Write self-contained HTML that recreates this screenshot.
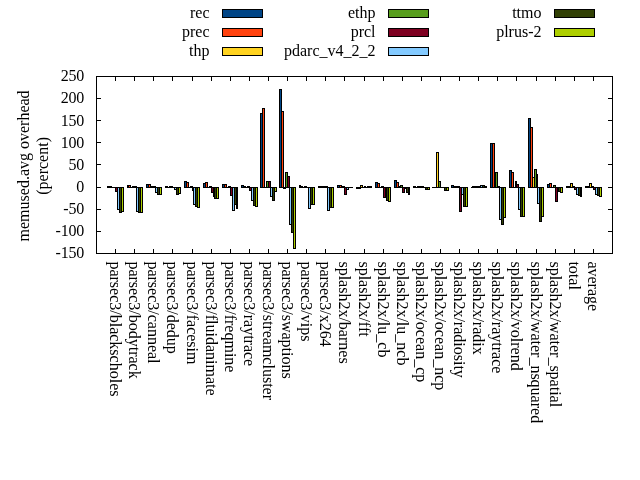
<!DOCTYPE html>
<html><head><meta charset="utf-8"><title>memused.avg overhead</title>
<style>html,body{margin:0;padding:0;background:#fff}svg{display:block}text{font-family:"Liberation Serif",serif;font-size:16px;fill:#000}</style></head><body>
<svg width="640" height="480" viewBox="0 0 640 480">
<rect width="640" height="480" fill="#fff"/>
<g stroke="#000" stroke-width="1" shape-rendering="crispEdges">
<rect x="107.5" y="186.5" width="2" height="1" fill="#004586"/>
<rect x="127.5" y="185.5" width="1" height="2" fill="#004586"/>
<rect x="146.5" y="184.5" width="2" height="3" fill="#004586"/>
<rect x="165.5" y="186.5" width="2" height="1" fill="#004586"/>
<rect x="184.5" y="181.5" width="2" height="6" fill="#004586"/>
<rect x="203.5" y="183.5" width="2" height="4" fill="#004586"/>
<rect x="222.5" y="184.5" width="2" height="3" fill="#004586"/>
<rect x="241.5" y="185.5" width="2" height="2" fill="#004586"/>
<rect x="260.5" y="113.5" width="2" height="74" fill="#004586"/>
<rect x="279.5" y="89.5" width="2" height="98" fill="#004586"/>
<rect x="299.5" y="185.5" width="1" height="2" fill="#004586"/>
<rect x="318.5" y="186.5" width="2" height="1" fill="#004586"/>
<rect x="337.5" y="185.5" width="2" height="2" fill="#004586"/>
<rect x="356.5" y="187.5" width="2" height="1" fill="#004586"/>
<rect x="375.5" y="182.5" width="2" height="5" fill="#004586"/>
<rect x="394.5" y="180.5" width="2" height="7" fill="#004586"/>
<rect x="413.5" y="186.5" width="2" height="1" fill="#004586"/>
<rect x="432" y="187" width="3" height="1" fill="#000" stroke="none"/>
<rect x="451.5" y="185.5" width="2" height="2" fill="#004586"/>
<rect x="471" y="187" width="2" height="1" fill="#000" stroke="none"/>
<rect x="490.5" y="143.5" width="2" height="44" fill="#004586"/>
<rect x="509.5" y="170.5" width="2" height="17" fill="#004586"/>
<rect x="528.5" y="118.5" width="2" height="69" fill="#004586"/>
<rect x="547.5" y="184.5" width="2" height="3" fill="#004586"/>
<rect x="566.5" y="186.5" width="2" height="1" fill="#004586"/>
<rect x="585.5" y="186.5" width="2" height="1" fill="#004586"/>
<rect x="109.5" y="186.5" width="2" height="1" fill="#ff420e"/>
<rect x="128.5" y="185.5" width="2" height="2" fill="#ff420e"/>
<rect x="148.5" y="184.5" width="2" height="3" fill="#ff420e"/>
<rect x="167" y="187" width="3" height="1" fill="#000" stroke="none"/>
<rect x="186.5" y="182.5" width="2" height="5" fill="#ff420e"/>
<rect x="205.5" y="182.5" width="2" height="5" fill="#ff420e"/>
<rect x="224.5" y="184.5" width="2" height="3" fill="#ff420e"/>
<rect x="243.5" y="186.5" width="2" height="1" fill="#ff420e"/>
<rect x="262.5" y="108.5" width="2" height="79" fill="#ff420e"/>
<rect x="281.5" y="111.5" width="2" height="76" fill="#ff420e"/>
<rect x="300.5" y="186.5" width="2" height="1" fill="#ff420e"/>
<rect x="320.5" y="186.5" width="2" height="1" fill="#ff420e"/>
<rect x="339.5" y="185.5" width="2" height="2" fill="#ff420e"/>
<rect x="358.5" y="187.5" width="2" height="1" fill="#ff420e"/>
<rect x="377.5" y="183.5" width="2" height="4" fill="#ff420e"/>
<rect x="396.5" y="182.5" width="2" height="5" fill="#ff420e"/>
<rect x="415" y="187" width="3" height="1" fill="#000" stroke="none"/>
<rect x="434" y="187" width="3" height="1" fill="#000" stroke="none"/>
<rect x="453.5" y="186.5" width="2" height="1" fill="#ff420e"/>
<rect x="472.5" y="186.5" width="2" height="1" fill="#ff420e"/>
<rect x="492.5" y="143.5" width="2" height="44" fill="#ff420e"/>
<rect x="511.5" y="172.5" width="2" height="15" fill="#ff420e"/>
<rect x="530.5" y="127.5" width="2" height="60" fill="#ff420e"/>
<rect x="549.5" y="183.5" width="2" height="4" fill="#ff420e"/>
<rect x="568.5" y="186.5" width="2" height="1" fill="#ff420e"/>
<rect x="587.5" y="186.5" width="2" height="1" fill="#ff420e"/>
<rect x="111" y="187" width="3" height="1" fill="#000" stroke="none"/>
<rect x="130" y="187" width="3" height="1" fill="#000" stroke="none"/>
<rect x="150.5" y="186.5" width="1" height="1" fill="#ffd320"/>
<rect x="169.5" y="186.5" width="2" height="1" fill="#ffd320"/>
<rect x="188" y="187" width="3" height="1" fill="#000" stroke="none"/>
<rect x="207" y="187" width="3" height="1" fill="#000" stroke="none"/>
<rect x="226" y="187" width="3" height="1" fill="#000" stroke="none"/>
<rect x="245" y="187" width="3" height="1" fill="#000" stroke="none"/>
<rect x="264" y="187" width="3" height="1" fill="#000" stroke="none"/>
<rect x="283.5" y="187.5" width="2" height="1" fill="#ffd320"/>
<rect x="302" y="187" width="3" height="1" fill="#000" stroke="none"/>
<rect x="322.5" y="186.5" width="1" height="1" fill="#ffd320"/>
<rect x="341.5" y="186.5" width="2" height="1" fill="#ffd320"/>
<rect x="360.5" y="185.5" width="2" height="2" fill="#ffd320"/>
<rect x="379" y="187" width="3" height="1" fill="#000" stroke="none"/>
<rect x="398.5" y="186.5" width="2" height="1" fill="#ffd320"/>
<rect x="417.5" y="186.5" width="2" height="1" fill="#ffd320"/>
<rect x="436.5" y="152.5" width="2" height="35" fill="#ffd320"/>
<rect x="455.5" y="186.5" width="2" height="1" fill="#ffd320"/>
<rect x="474.5" y="186.5" width="2" height="1" fill="#ffd320"/>
<rect x="494" y="187" width="2" height="1" fill="#000" stroke="none"/>
<rect x="513" y="187" width="3" height="1" fill="#000" stroke="none"/>
<rect x="532.5" y="177.5" width="2" height="10" fill="#ffd320"/>
<rect x="551" y="187" width="3" height="1" fill="#000" stroke="none"/>
<rect x="570.5" y="183.5" width="2" height="4" fill="#ffd320"/>
<rect x="589.5" y="183.5" width="2" height="4" fill="#ffd320"/>
<rect x="113" y="187" width="3" height="1" fill="#000" stroke="none"/>
<rect x="132.5" y="186.5" width="2" height="1" fill="#579d1c"/>
<rect x="151.5" y="186.5" width="2" height="1" fill="#579d1c"/>
<rect x="171.5" y="186.5" width="1" height="1" fill="#579d1c"/>
<rect x="190.5" y="186.5" width="2" height="1" fill="#579d1c"/>
<rect x="209.5" y="186.5" width="2" height="1" fill="#579d1c"/>
<rect x="228.5" y="186.5" width="2" height="1" fill="#579d1c"/>
<rect x="247.5" y="186.5" width="2" height="1" fill="#579d1c"/>
<rect x="266.5" y="181.5" width="2" height="6" fill="#579d1c"/>
<rect x="285.5" y="172.5" width="2" height="15" fill="#579d1c"/>
<rect x="304.5" y="186.5" width="2" height="1" fill="#579d1c"/>
<rect x="323.5" y="186.5" width="2" height="1" fill="#579d1c"/>
<rect x="343.5" y="186.5" width="1" height="1" fill="#579d1c"/>
<rect x="362" y="187" width="3" height="1" fill="#000" stroke="none"/>
<rect x="381.5" y="186.5" width="2" height="1" fill="#579d1c"/>
<rect x="400.5" y="185.5" width="2" height="2" fill="#579d1c"/>
<rect x="419.5" y="186.5" width="2" height="1" fill="#579d1c"/>
<rect x="438.5" y="181.5" width="2" height="6" fill="#579d1c"/>
<rect x="457.5" y="186.5" width="2" height="1" fill="#579d1c"/>
<rect x="476.5" y="186.5" width="2" height="1" fill="#579d1c"/>
<rect x="495.5" y="172.5" width="2" height="15" fill="#579d1c"/>
<rect x="515.5" y="181.5" width="1" height="6" fill="#579d1c"/>
<rect x="534.5" y="169.5" width="2" height="18" fill="#579d1c"/>
<rect x="553.5" y="185.5" width="2" height="2" fill="#579d1c"/>
<rect x="572.5" y="186.5" width="2" height="1" fill="#579d1c"/>
<rect x="591.5" y="186.5" width="2" height="1" fill="#579d1c"/>
<rect x="115.5" y="187.5" width="2" height="4" fill="#7e0021"/>
<rect x="134.5" y="186.5" width="2" height="1" fill="#7e0021"/>
<rect x="153.5" y="186.5" width="2" height="1" fill="#7e0021"/>
<rect x="172" y="187" width="3" height="1" fill="#000" stroke="none"/>
<rect x="192.5" y="187.5" width="1" height="3" fill="#7e0021"/>
<rect x="211.5" y="187.5" width="2" height="5" fill="#7e0021"/>
<rect x="230.5" y="187.5" width="2" height="8" fill="#7e0021"/>
<rect x="249.5" y="187.5" width="2" height="3" fill="#7e0021"/>
<rect x="268.5" y="181.5" width="2" height="6" fill="#7e0021"/>
<rect x="287.5" y="176.5" width="2" height="11" fill="#7e0021"/>
<rect x="306" y="187" width="3" height="1" fill="#000" stroke="none"/>
<rect x="325.5" y="186.5" width="2" height="1" fill="#7e0021"/>
<rect x="344.5" y="187.5" width="2" height="7" fill="#7e0021"/>
<rect x="364.5" y="186.5" width="1" height="1" fill="#7e0021"/>
<rect x="383.5" y="187.5" width="2" height="10" fill="#7e0021"/>
<rect x="402.5" y="187.5" width="2" height="5" fill="#7e0021"/>
<rect x="421.5" y="186.5" width="2" height="1" fill="#7e0021"/>
<rect x="440" y="187" width="3" height="1" fill="#000" stroke="none"/>
<rect x="459.5" y="187.5" width="2" height="24" fill="#7e0021"/>
<rect x="478.5" y="186.5" width="2" height="1" fill="#7e0021"/>
<rect x="497.5" y="186.5" width="2" height="1" fill="#7e0021"/>
<rect x="516.5" y="184.5" width="2" height="3" fill="#7e0021"/>
<rect x="536.5" y="174.5" width="1" height="13" fill="#7e0021"/>
<rect x="555.5" y="187.5" width="2" height="14" fill="#7e0021"/>
<rect x="574.5" y="187.5" width="2" height="2" fill="#7e0021"/>
<rect x="593.5" y="187.5" width="2" height="2" fill="#7e0021"/>
<rect x="117.5" y="187.5" width="2" height="22" fill="#83caff"/>
<rect x="136.5" y="187.5" width="2" height="24" fill="#83caff"/>
<rect x="155.5" y="187.5" width="2" height="5" fill="#83caff"/>
<rect x="174.5" y="187.5" width="2" height="2" fill="#83caff"/>
<rect x="193.5" y="187.5" width="2" height="17" fill="#83caff"/>
<rect x="213.5" y="187.5" width="1" height="9" fill="#83caff"/>
<rect x="232.5" y="187.5" width="2" height="23" fill="#83caff"/>
<rect x="251.5" y="187.5" width="2" height="13" fill="#83caff"/>
<rect x="270.5" y="187.5" width="2" height="9" fill="#83caff"/>
<rect x="289.5" y="187.5" width="2" height="37" fill="#83caff"/>
<rect x="308.5" y="187.5" width="2" height="21" fill="#83caff"/>
<rect x="327.5" y="187.5" width="2" height="23" fill="#83caff"/>
<rect x="346.5" y="187.5" width="2" height="2" fill="#83caff"/>
<rect x="365" y="187" width="3" height="1" fill="#000" stroke="none"/>
<rect x="385.5" y="187.5" width="1" height="8" fill="#83caff"/>
<rect x="404.5" y="187.5" width="2" height="1" fill="#83caff"/>
<rect x="423" y="187" width="3" height="1" fill="#000" stroke="none"/>
<rect x="442" y="187" width="3" height="1" fill="#000" stroke="none"/>
<rect x="461.5" y="187.5" width="2" height="7" fill="#83caff"/>
<rect x="480.5" y="185.5" width="2" height="2" fill="#83caff"/>
<rect x="499.5" y="187.5" width="2" height="32" fill="#83caff"/>
<rect x="518.5" y="187.5" width="2" height="22" fill="#83caff"/>
<rect x="537.5" y="187.5" width="2" height="16" fill="#83caff"/>
<rect x="557.5" y="187.5" width="1" height="3" fill="#83caff"/>
<rect x="576.5" y="187.5" width="2" height="7" fill="#83caff"/>
<rect x="595.5" y="187.5" width="2" height="7" fill="#83caff"/>
<rect x="119.5" y="187.5" width="2" height="25" fill="#314004"/>
<rect x="138.5" y="187.5" width="2" height="25" fill="#314004"/>
<rect x="157.5" y="187.5" width="2" height="7" fill="#314004"/>
<rect x="176.5" y="187.5" width="2" height="7" fill="#314004"/>
<rect x="195.5" y="187.5" width="2" height="19" fill="#314004"/>
<rect x="214.5" y="187.5" width="2" height="11" fill="#314004"/>
<rect x="234.5" y="187.5" width="2" height="17" fill="#314004"/>
<rect x="253.5" y="187.5" width="2" height="18" fill="#314004"/>
<rect x="272.5" y="187.5" width="2" height="13" fill="#314004"/>
<rect x="291.5" y="187.5" width="2" height="45" fill="#314004"/>
<rect x="310.5" y="187.5" width="2" height="17" fill="#314004"/>
<rect x="329.5" y="187.5" width="2" height="20" fill="#314004"/>
<rect x="348" y="187" width="3" height="1" fill="#000" stroke="none"/>
<rect x="367.5" y="186.5" width="2" height="1" fill="#314004"/>
<rect x="386.5" y="187.5" width="2" height="13" fill="#314004"/>
<rect x="406.5" y="187.5" width="2" height="5" fill="#314004"/>
<rect x="425.5" y="187.5" width="2" height="2" fill="#314004"/>
<rect x="444.5" y="187.5" width="2" height="3" fill="#314004"/>
<rect x="463.5" y="187.5" width="2" height="19" fill="#314004"/>
<rect x="482.5" y="185.5" width="2" height="2" fill="#314004"/>
<rect x="501.5" y="187.5" width="2" height="37" fill="#314004"/>
<rect x="520.5" y="187.5" width="2" height="29" fill="#314004"/>
<rect x="539.5" y="187.5" width="2" height="34" fill="#314004"/>
<rect x="558.5" y="187.5" width="2" height="4" fill="#314004"/>
<rect x="578.5" y="187.5" width="2" height="8" fill="#314004"/>
<rect x="597.5" y="187.5" width="2" height="8" fill="#314004"/>
<rect x="121.5" y="187.5" width="2" height="24" fill="#aecf00"/>
<rect x="140.5" y="187.5" width="2" height="25" fill="#aecf00"/>
<rect x="159.5" y="187.5" width="2" height="7" fill="#aecf00"/>
<rect x="178.5" y="187.5" width="2" height="6" fill="#aecf00"/>
<rect x="197.5" y="187.5" width="2" height="20" fill="#aecf00"/>
<rect x="216.5" y="187.5" width="2" height="11" fill="#aecf00"/>
<rect x="236.5" y="187.5" width="1" height="21" fill="#aecf00"/>
<rect x="255.5" y="187.5" width="2" height="19" fill="#aecf00"/>
<rect x="274.5" y="187.5" width="2" height="4" fill="#aecf00"/>
<rect x="293.5" y="187.5" width="2" height="61" fill="#aecf00"/>
<rect x="312.5" y="187.5" width="2" height="17" fill="#aecf00"/>
<rect x="331.5" y="187.5" width="2" height="20" fill="#aecf00"/>
<rect x="350" y="187" width="3" height="1" fill="#000" stroke="none"/>
<rect x="369.5" y="186.5" width="2" height="1" fill="#aecf00"/>
<rect x="388.5" y="187.5" width="2" height="14" fill="#aecf00"/>
<rect x="408.5" y="187.5" width="1" height="7" fill="#aecf00"/>
<rect x="427.5" y="187.5" width="2" height="2" fill="#aecf00"/>
<rect x="446.5" y="187.5" width="2" height="3" fill="#aecf00"/>
<rect x="465.5" y="187.5" width="2" height="19" fill="#aecf00"/>
<rect x="484.5" y="186.5" width="2" height="1" fill="#aecf00"/>
<rect x="503.5" y="187.5" width="2" height="30" fill="#aecf00"/>
<rect x="522.5" y="187.5" width="2" height="29" fill="#aecf00"/>
<rect x="541.5" y="187.5" width="2" height="29" fill="#aecf00"/>
<rect x="560.5" y="187.5" width="2" height="5" fill="#aecf00"/>
<rect x="580.5" y="187.5" width="1" height="9" fill="#aecf00"/>
<rect x="599.5" y="187.5" width="2" height="9" fill="#aecf00"/>
</g>
<g stroke="#000" stroke-width="1" fill="none" shape-rendering="crispEdges">
<rect x="96.5" y="76.5" width="516.0" height="177.0"/>
<rect x="97" y="76" width="4" height="1" fill="#000" stroke="none"/><rect x="608" y="76" width="4" height="1" fill="#000" stroke="none"/>
<rect x="97" y="98" width="4" height="1" fill="#000" stroke="none"/><rect x="608" y="98" width="4" height="1" fill="#000" stroke="none"/>
<rect x="97" y="120" width="4" height="1" fill="#000" stroke="none"/><rect x="608" y="120" width="4" height="1" fill="#000" stroke="none"/>
<rect x="97" y="142" width="4" height="1" fill="#000" stroke="none"/><rect x="608" y="142" width="4" height="1" fill="#000" stroke="none"/>
<rect x="97" y="164" width="4" height="1" fill="#000" stroke="none"/><rect x="608" y="164" width="4" height="1" fill="#000" stroke="none"/>
<rect x="97" y="187" width="4" height="1" fill="#000" stroke="none"/><rect x="608" y="187" width="4" height="1" fill="#000" stroke="none"/>
<rect x="97" y="209" width="4" height="1" fill="#000" stroke="none"/><rect x="608" y="209" width="4" height="1" fill="#000" stroke="none"/>
<rect x="97" y="231" width="4" height="1" fill="#000" stroke="none"/><rect x="608" y="231" width="4" height="1" fill="#000" stroke="none"/>
<rect x="97" y="253" width="4" height="1" fill="#000" stroke="none"/><rect x="608" y="253" width="4" height="1" fill="#000" stroke="none"/>
<rect x="115" y="249" width="1" height="4" fill="#000" stroke="none"/><rect x="115" y="77" width="1" height="4" fill="#000" stroke="none"/>
<rect x="134" y="249" width="1" height="4" fill="#000" stroke="none"/><rect x="134" y="77" width="1" height="4" fill="#000" stroke="none"/>
<rect x="153" y="249" width="1" height="4" fill="#000" stroke="none"/><rect x="153" y="77" width="1" height="4" fill="#000" stroke="none"/>
<rect x="172" y="249" width="1" height="4" fill="#000" stroke="none"/><rect x="172" y="77" width="1" height="4" fill="#000" stroke="none"/>
<rect x="192" y="249" width="1" height="4" fill="#000" stroke="none"/><rect x="192" y="77" width="1" height="4" fill="#000" stroke="none"/>
<rect x="211" y="249" width="1" height="4" fill="#000" stroke="none"/><rect x="211" y="77" width="1" height="4" fill="#000" stroke="none"/>
<rect x="230" y="249" width="1" height="4" fill="#000" stroke="none"/><rect x="230" y="77" width="1" height="4" fill="#000" stroke="none"/>
<rect x="249" y="249" width="1" height="4" fill="#000" stroke="none"/><rect x="249" y="77" width="1" height="4" fill="#000" stroke="none"/>
<rect x="268" y="249" width="1" height="4" fill="#000" stroke="none"/><rect x="268" y="77" width="1" height="4" fill="#000" stroke="none"/>
<rect x="287" y="249" width="1" height="4" fill="#000" stroke="none"/><rect x="287" y="77" width="1" height="4" fill="#000" stroke="none"/>
<rect x="306" y="249" width="1" height="4" fill="#000" stroke="none"/><rect x="306" y="77" width="1" height="4" fill="#000" stroke="none"/>
<rect x="325" y="249" width="1" height="4" fill="#000" stroke="none"/><rect x="325" y="77" width="1" height="4" fill="#000" stroke="none"/>
<rect x="344" y="249" width="1" height="4" fill="#000" stroke="none"/><rect x="344" y="77" width="1" height="4" fill="#000" stroke="none"/>
<rect x="364" y="249" width="1" height="4" fill="#000" stroke="none"/><rect x="364" y="77" width="1" height="4" fill="#000" stroke="none"/>
<rect x="383" y="249" width="1" height="4" fill="#000" stroke="none"/><rect x="383" y="77" width="1" height="4" fill="#000" stroke="none"/>
<rect x="402" y="249" width="1" height="4" fill="#000" stroke="none"/><rect x="402" y="77" width="1" height="4" fill="#000" stroke="none"/>
<rect x="421" y="249" width="1" height="4" fill="#000" stroke="none"/><rect x="421" y="77" width="1" height="4" fill="#000" stroke="none"/>
<rect x="440" y="249" width="1" height="4" fill="#000" stroke="none"/><rect x="440" y="77" width="1" height="4" fill="#000" stroke="none"/>
<rect x="459" y="249" width="1" height="4" fill="#000" stroke="none"/><rect x="459" y="77" width="1" height="4" fill="#000" stroke="none"/>
<rect x="478" y="249" width="1" height="4" fill="#000" stroke="none"/><rect x="478" y="77" width="1" height="4" fill="#000" stroke="none"/>
<rect x="497" y="249" width="1" height="4" fill="#000" stroke="none"/><rect x="497" y="77" width="1" height="4" fill="#000" stroke="none"/>
<rect x="516" y="249" width="1" height="4" fill="#000" stroke="none"/><rect x="516" y="77" width="1" height="4" fill="#000" stroke="none"/>
<rect x="536" y="249" width="1" height="4" fill="#000" stroke="none"/><rect x="536" y="77" width="1" height="4" fill="#000" stroke="none"/>
<rect x="555" y="249" width="1" height="4" fill="#000" stroke="none"/><rect x="555" y="77" width="1" height="4" fill="#000" stroke="none"/>
<rect x="574" y="249" width="1" height="4" fill="#000" stroke="none"/><rect x="574" y="77" width="1" height="4" fill="#000" stroke="none"/>
<rect x="593" y="249" width="1" height="4" fill="#000" stroke="none"/><rect x="593" y="77" width="1" height="4" fill="#000" stroke="none"/>
</g>
<text x="84.1" y="81.3" text-anchor="end" letter-spacing="-0.2">250</text>
<text x="84.1" y="103.4" text-anchor="end" letter-spacing="-0.2">200</text>
<text x="84.1" y="125.5" text-anchor="end" letter-spacing="-0.2">150</text>
<text x="84.1" y="147.7" text-anchor="end" letter-spacing="-0.2">100</text>
<text x="84.1" y="169.8" text-anchor="end" letter-spacing="-0.2">50</text>
<text x="84.1" y="191.9" text-anchor="end" letter-spacing="-0.2">0</text>
<text x="84.1" y="214.1" text-anchor="end" letter-spacing="-0.2">-50</text>
<text x="84.1" y="236.2" text-anchor="end" letter-spacing="-0.2">-100</text>
<text x="84.1" y="258.3" text-anchor="end" letter-spacing="-0.2">-150</text>
<text transform="translate(110.0,261.4) rotate(90)" x="0" y="0">parsec3/blackscholes</text>
<text transform="translate(129.1,261.4) rotate(90)" x="0" y="0">parsec3/bodytrack</text>
<text transform="translate(148.2,261.4) rotate(90)" x="0" y="0">parsec3/canneal</text>
<text transform="translate(167.3,261.4) rotate(90)" x="0" y="0">parsec3/dedup</text>
<text transform="translate(186.5,261.4) rotate(90)" x="0" y="0">parsec3/facesim</text>
<text transform="translate(205.6,261.4) rotate(90)" x="0" y="0">parsec3/fluidanimate</text>
<text transform="translate(224.7,261.4) rotate(90)" x="0" y="0">parsec3/freqmine</text>
<text transform="translate(243.8,261.4) rotate(90)" x="0" y="0">parsec3/raytrace</text>
<text transform="translate(262.9,261.4) rotate(90)" x="0" y="0">parsec3/streamcluster</text>
<text transform="translate(282.0,261.4) rotate(90)" x="0" y="0">parsec3/swaptions</text>
<text transform="translate(301.1,261.4) rotate(90)" x="0" y="0">parsec3/vips</text>
<text transform="translate(320.2,261.4) rotate(90)" x="0" y="0">parsec3/x264</text>
<text transform="translate(339.3,261.4) rotate(90)" x="0" y="0">splash2x/barnes</text>
<text transform="translate(358.5,261.4) rotate(90)" x="0" y="0">splash2x/fft</text>
<text transform="translate(377.6,261.4) rotate(90)" x="0" y="0">splash2x/lu_cb</text>
<text transform="translate(396.7,261.4) rotate(90)" x="0" y="0">splash2x/lu_ncb</text>
<text transform="translate(415.8,261.4) rotate(90)" x="0" y="0">splash2x/ocean_cp</text>
<text transform="translate(434.9,261.4) rotate(90)" x="0" y="0">splash2x/ocean_ncp</text>
<text transform="translate(454.0,261.4) rotate(90)" x="0" y="0">splash2x/radiosity</text>
<text transform="translate(473.1,261.4) rotate(90)" x="0" y="0">splash2x/radix</text>
<text transform="translate(492.2,261.4) rotate(90)" x="0" y="0">splash2x/raytrace</text>
<text transform="translate(511.3,261.4) rotate(90)" x="0" y="0">splash2x/volrend</text>
<text transform="translate(530.5,261.4) rotate(90)" x="0" y="0">splash2x/water_nsquared</text>
<text transform="translate(549.6,261.4) rotate(90)" x="0" y="0">splash2x/water_spatial</text>
<text transform="translate(568.7,261.4) rotate(90)" x="0" y="0">total</text>
<text transform="translate(587.8,261.4) rotate(90)" x="0" y="0">average</text>
<text transform="translate(28.5,165.9) rotate(-90)" text-anchor="middle">memused.avg overhead</text>
<text transform="translate(47.5,165.9) rotate(-90)" text-anchor="middle">(percent)</text>
<text x="209.5" y="17.7" text-anchor="end">rec</text>
<rect x="222.5" y="9.5" width="40" height="8" fill="#004586" stroke="#000" stroke-width="1" shape-rendering="crispEdges"/>
<text x="209.5" y="36.7" text-anchor="end">prec</text>
<rect x="222.5" y="28.5" width="40" height="8" fill="#ff420e" stroke="#000" stroke-width="1" shape-rendering="crispEdges"/>
<text x="209.5" y="55.7" text-anchor="end">thp</text>
<rect x="222.5" y="47.5" width="40" height="8" fill="#ffd320" stroke="#000" stroke-width="1" shape-rendering="crispEdges"/>
<text x="375.5" y="17.7" text-anchor="end">ethp</text>
<rect x="388.5" y="9.5" width="40" height="8" fill="#579d1c" stroke="#000" stroke-width="1" shape-rendering="crispEdges"/>
<text x="375.5" y="36.7" text-anchor="end">prcl</text>
<rect x="388.5" y="28.5" width="40" height="8" fill="#7e0021" stroke="#000" stroke-width="1" shape-rendering="crispEdges"/>
<text x="375.5" y="55.7" text-anchor="end">pdarc_v4_2_2</text>
<rect x="388.5" y="47.5" width="40" height="8" fill="#83caff" stroke="#000" stroke-width="1" shape-rendering="crispEdges"/>
<text x="541.5" y="17.7" text-anchor="end">ttmo</text>
<rect x="554.5" y="9.5" width="40" height="8" fill="#314004" stroke="#000" stroke-width="1" shape-rendering="crispEdges"/>
<text x="541.5" y="36.7" text-anchor="end">plrus-2</text>
<rect x="554.5" y="28.5" width="40" height="8" fill="#aecf00" stroke="#000" stroke-width="1" shape-rendering="crispEdges"/>
</svg></body></html>
